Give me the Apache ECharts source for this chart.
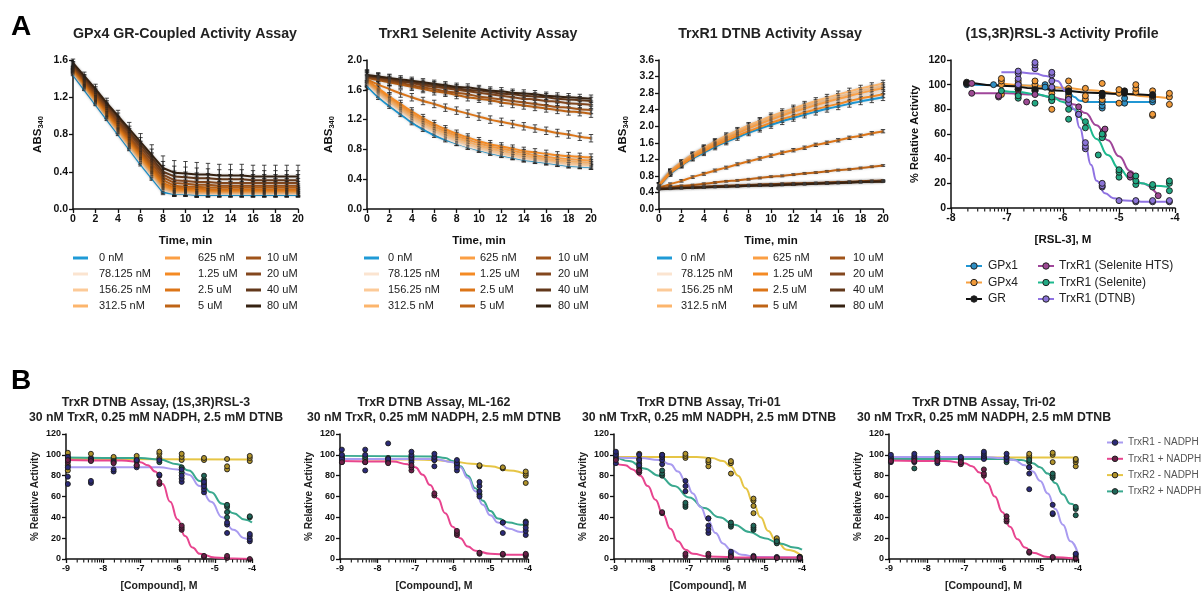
<!DOCTYPE html>
<html><head><meta charset="utf-8">
<script src="https://cdn.jsdelivr.net/npm/echarts@6/dist/echarts.min.js"></script>
<style>html,body{margin:0;padding:0;background:#fff}#c{width:1203px;height:594px}</style>
</head><body><div id="c"></div>
<script>
const FONT = "Arial, 'Liberation Sans', Helvetica, sans-serif";

// ================= DATA: Panel A (kinetics) =================
const timeMin = [0,1,2,3,4,5,6,7,8,9,10,11,12,13,14,15,16,17,18,19,20];
const concLabels = ['0 nM','78.125 nM','156.25 nM','312.5 nM','625 nM','1.25 uM','2.5 uM','5 uM','10 uM','20 uM','40 uM','80 uM'];
const concColors = ['#1f9ad6','#fbe4d0','#fcca98','#fcb56c','#fb9f44','#f48a24','#dc7518','#bf6416','#a0541a','#83471e','#62381b','#362212'];

const gpx4Abs = [
 [1.44,1.28,1.12,0.96,0.80,0.64,0.48,0.33,0.18,0.16,0.16,0.15,0.15,0.15,0.15,0.15,0.15,0.15,0.15,0.15,0.15],
 [1.46,1.30,1.14,0.98,0.82,0.66,0.50,0.35,0.20,0.17,0.17,0.16,0.16,0.16,0.16,0.16,0.16,0.16,0.16,0.16,0.16],
 [1.47,1.31,1.15,0.99,0.83,0.67,0.52,0.37,0.22,0.18,0.18,0.17,0.17,0.17,0.17,0.17,0.17,0.17,0.17,0.17,0.17],
 [1.48,1.32,1.16,1.00,0.85,0.69,0.54,0.39,0.23,0.19,0.19,0.18,0.18,0.18,0.18,0.18,0.18,0.18,0.18,0.18,0.18],
 [1.49,1.33,1.17,1.01,0.86,0.70,0.55,0.40,0.25,0.20,0.20,0.19,0.19,0.19,0.19,0.19,0.19,0.19,0.19,0.19,0.19],
 [1.50,1.34,1.18,1.03,0.87,0.72,0.57,0.42,0.26,0.21,0.21,0.20,0.20,0.20,0.20,0.20,0.20,0.20,0.20,0.20,0.20],
 [1.51,1.35,1.20,1.04,0.89,0.74,0.59,0.44,0.28,0.23,0.22,0.22,0.21,0.21,0.21,0.21,0.21,0.21,0.21,0.21,0.21],
 [1.52,1.37,1.21,1.06,0.91,0.76,0.61,0.46,0.31,0.25,0.24,0.24,0.23,0.23,0.23,0.23,0.23,0.23,0.23,0.23,0.23],
 [1.53,1.38,1.23,1.08,0.93,0.78,0.63,0.49,0.34,0.28,0.27,0.26,0.26,0.25,0.25,0.25,0.25,0.25,0.25,0.25,0.25],
 [1.54,1.40,1.25,1.10,0.95,0.81,0.66,0.52,0.37,0.31,0.30,0.29,0.29,0.28,0.28,0.28,0.28,0.28,0.28,0.28,0.28],
 [1.55,1.41,1.27,1.12,0.98,0.83,0.69,0.55,0.40,0.35,0.34,0.33,0.33,0.32,0.32,0.32,0.31,0.31,0.31,0.31,0.31],
 [1.57,1.43,1.29,1.14,1.00,0.86,0.72,0.58,0.44,0.39,0.38,0.37,0.37,0.36,0.36,0.36,0.35,0.35,0.35,0.35,0.35]
];
const gpx4ErrTime = [0.04,0.04,0.05,0.05,0.06,0.07,0.09,0.11,0.13,0.13,0.13,0.13,0.12,0.12,0.12,0.12,0.12,0.12,0.12,0.12,0.12];
const gpx4ErrScale = [0.2,0.25,0.3,0.35,0.4,0.45,0.5,0.55,0.65,0.75,0.85,1.0];

const seleniteAbs = [
 [1.65,1.50,1.38,1.27,1.16,1.07,0.99,0.93,0.88,0.83,0.79,0.75,0.72,0.69,0.66,0.64,0.62,0.60,0.58,0.57,0.56],
 [1.68,1.53,1.41,1.30,1.19,1.10,1.02,0.95,0.89,0.84,0.80,0.76,0.73,0.70,0.67,0.65,0.63,0.61,0.59,0.58,0.57],
 [1.70,1.56,1.44,1.33,1.22,1.13,1.05,0.98,0.92,0.87,0.82,0.78,0.75,0.72,0.69,0.67,0.65,0.63,0.61,0.60,0.59],
 [1.71,1.58,1.46,1.35,1.25,1.16,1.08,1.01,0.95,0.90,0.85,0.81,0.78,0.75,0.72,0.69,0.67,0.65,0.64,0.63,0.62],
 [1.72,1.60,1.49,1.38,1.28,1.19,1.11,1.04,0.98,0.93,0.88,0.84,0.81,0.78,0.75,0.72,0.70,0.68,0.67,0.66,0.65],
 [1.73,1.62,1.51,1.41,1.31,1.22,1.14,1.07,1.01,0.96,0.91,0.87,0.84,0.81,0.78,0.76,0.74,0.72,0.71,0.70,0.69],
 [1.74,1.67,1.61,1.55,1.50,1.45,1.41,1.36,1.32,1.28,1.24,1.20,1.17,1.14,1.11,1.08,1.05,1.02,1.00,0.97,0.95],
 [1.76,1.73,1.70,1.67,1.64,1.61,1.58,1.56,1.53,1.50,1.48,1.46,1.43,1.41,1.39,1.37,1.35,1.33,1.31,1.30,1.28],
 [1.77,1.74,1.71,1.69,1.66,1.63,1.61,1.58,1.56,1.54,1.51,1.49,1.47,1.45,1.43,1.41,1.39,1.37,1.36,1.34,1.33],
 [1.78,1.76,1.73,1.71,1.69,1.66,1.64,1.62,1.60,1.58,1.56,1.54,1.52,1.50,1.48,1.47,1.45,1.44,1.42,1.41,1.40],
 [1.79,1.77,1.75,1.72,1.70,1.68,1.66,1.64,1.62,1.60,1.59,1.57,1.55,1.54,1.52,1.51,1.50,1.48,1.47,1.46,1.45],
 [1.80,1.78,1.76,1.74,1.72,1.70,1.68,1.66,1.64,1.63,1.61,1.59,1.58,1.56,1.55,1.54,1.52,1.51,1.50,1.49,1.48]
];
const seleniteErrTime = [0.07,0.05,0.05,0.05,0.05,0.05,0.05,0.05,0.05,0.05,0.05,0.05,0.05,0.05,0.05,0.05,0.05,0.05,0.05,0.05,0.05];
const seleniteErrScale = [0.6,0.7,0.8,0.9,1,1,1,1,1,1,1,1];

const dtnbAbs = [
 [0.55,0.85,1.05,1.22,1.36,1.50,1.62,1.73,1.84,1.94,2.03,2.12,2.20,2.28,2.35,2.42,2.48,2.54,2.60,2.65,2.70],
 [0.57,0.88,1.09,1.27,1.42,1.56,1.69,1.81,1.92,2.03,2.13,2.22,2.31,2.39,2.47,2.54,2.61,2.68,2.74,2.80,2.86],
 [0.58,0.90,1.12,1.30,1.46,1.61,1.74,1.87,1.99,2.10,2.20,2.30,2.39,2.48,2.56,2.64,2.71,2.78,2.85,2.91,2.97],
 [0.58,0.91,1.13,1.32,1.48,1.63,1.77,1.90,2.02,2.13,2.24,2.34,2.43,2.52,2.61,2.69,2.77,2.84,2.91,2.97,3.03],
 [0.57,0.89,1.10,1.28,1.44,1.58,1.71,1.83,1.95,2.06,2.16,2.26,2.35,2.43,2.51,2.59,2.66,2.73,2.80,2.86,2.92],
 [0.56,0.86,1.06,1.24,1.39,1.53,1.65,1.77,1.88,1.98,2.08,2.17,2.25,2.33,2.41,2.48,2.54,2.61,2.67,2.72,2.77],
 [0.52,0.60,0.68,0.77,0.85,0.93,1.00,1.08,1.15,1.22,1.29,1.36,1.42,1.48,1.55,1.60,1.66,1.72,1.77,1.83,1.88],
 [0.50,0.53,0.56,0.58,0.61,0.64,0.67,0.69,0.72,0.75,0.78,0.80,0.83,0.86,0.88,0.91,0.94,0.96,0.99,1.02,1.05],
 [0.50,0.51,0.52,0.53,0.54,0.55,0.56,0.57,0.58,0.59,0.60,0.61,0.62,0.62,0.63,0.64,0.65,0.66,0.67,0.68,0.69],
 [0.49,0.50,0.51,0.52,0.53,0.54,0.55,0.56,0.57,0.58,0.59,0.60,0.60,0.61,0.62,0.63,0.64,0.65,0.66,0.67,0.68],
 [0.49,0.50,0.51,0.52,0.53,0.54,0.55,0.55,0.56,0.57,0.58,0.59,0.60,0.61,0.62,0.62,0.63,0.64,0.65,0.66,0.67],
 [0.48,0.49,0.50,0.51,0.52,0.53,0.54,0.55,0.56,0.57,0.57,0.58,0.59,0.60,0.61,0.62,0.63,0.64,0.65,0.66,0.66]
];
const dtnbErrTime = [0.06,0.06,0.06,0.06,0.07,0.07,0.07,0.07,0.07,0.08,0.08,0.08,0.08,0.08,0.08,0.08,0.08,0.08,0.08,0.08,0.08];
const dtnbErrScale = [1,1,1,1,1,1,0.5,0.25,0.2,0.2,0.2,0.2];

// ================= DATA: Panel A4 (RSL-3 profile) =================
const profileNames = ['GPx1','GPx4','GR','TrxR1 (Selenite HTS)','TrxR1 (Selenite)','TrxR1 (DTNB)'];
const profileLine = ['#2196d3','#f7a040','#111111','#a0469a','#1db98e','#8f72e2'];
const profileFill = ['#2f8fc4','#f09a3a','#1a1a1a','#9c4a93','#22a883','#8a73d6'];
const gpx1Curve = [[-7.72,100],[-7,99.6],[-6.5,99.2],[-6.2,98.6],[-6.0,97],[-5.9,94],[-5.8,90],[-5.7,87],[-5.55,86],[-5,86],[-4.4,86]];
const gpx4Curve = [[-7.1,101],[-6.5,99],[-6,97.5],[-5.5,95.5],[-5,93],[-4.5,90.5],[-4.1,89]];
const grCurve = [[-7.72,102],[-7,99],[-6.5,97],[-6,95],[-5.5,93.5],[-5,92.5],[-4.4,91.5]];
const htsCurve = [[-7.63,93],[-7,93],[-6.5,92],[-6.2,90],[-6,88],[-5.8,84],[-5.6,77],[-5.4,67],[-5.2,55],[-5.0,42],[-4.8,30],[-4.6,20],[-4.3,10]];
const selCurve = [[-7.1,95],[-6.8,94],[-6.5,92.5],[-6.2,90],[-6,86],[-5.8,80],[-5.6,70],[-5.4,56],[-5.2,43],[-5.0,32],[-4.8,24],[-4.6,20],[-4.4,18],[-4.1,17]];
const dtnbCurve = [[-7.1,110],[-6.8,110],[-6.5,109],[-6.3,107],[-6.1,103],[-5.95,95],[-5.8,80],[-5.7,65],[-5.6,50],[-5.5,35],[-5.4,22],[-5.25,12],[-5.1,8],[-4.9,6],[-4.5,5],[-4.1,5]];
const gpx1Pts = [[-7.72,100],[-7.72,101],[-7.24,100],[-6.8,96],[-6.5,97],[-6.32,100],[-6.32,98],[-6.2,96],[-5.9,92],[-5.9,89],[-5.3,81],[-5.3,83],[-5.3,86],[-4.9,85],[-4.9,89],[-4.4,86],[-4.4,88]];
const gpx4Pts = [[-7.1,92],[-7.1,100],[-7.1,103],[-7.1,105],[-6.8,96],[-6.8,101],[-6.8,103],[-6.5,95],[-6.5,100],[-6.5,103],[-6.2,80],[-6.2,88],[-6.2,93],[-6.2,97],[-5.9,90],[-5.9,97],[-5.9,103],[-5.6,88],[-5.6,91],[-5.6,97],[-5.3,88],[-5.3,93],[-5.3,101],[-5.0,85],[-5.0,93],[-5.0,96],[-4.7,94],[-4.7,97],[-4.7,100],[-4.4,75],[-4.4,76],[-4.4,90],[-4.4,95],[-4.1,84],[-4.1,90],[-4.1,93]];
const grPts = [[-7.72,101],[-7.72,102],[-6.8,97],[-6.8,99],[-6.5,95],[-6.5,96],[-6.2,97],[-5.9,94],[-5.9,95],[-5.3,91],[-5.3,93],[-4.9,93],[-4.9,95],[-4.4,91],[-4.4,92]];
const htsPts = [[-7.63,93],[-7.63,101],[-7.15,90],[-7.15,91],[-6.8,92],[-6.65,86],[-6.5,92],[-6.2,88],[-5.72,76],[-5.72,82],[-5.28,59],[-5.28,62],[-5.25,64],[-4.8,25],[-4.8,27],[-4.3,10]];
const selPts = [[-7.1,95],[-6.8,89],[-6.8,91],[-6.5,85],[-6.2,87],[-6.2,90],[-5.9,72],[-5.9,80],[-5.9,88],[-5.6,65],[-5.6,70],[-5.37,43],[-5.3,57],[-5.3,60],[-5.0,25],[-5.0,29],[-5.0,31],[-4.7,19],[-4.7,22],[-4.7,26],[-4.4,17],[-4.4,19],[-4.1,14],[-4.1,20],[-4.1,22]];
const dtnbPts = [[-6.8,100],[-6.8,105],[-6.8,109],[-6.8,111],[-6.5,113],[-6.5,116],[-6.5,118],[-6.2,98],[-6.2,103],[-6.2,108],[-6.2,110],[-5.9,85],[-5.9,88],[-5.72,76],[-5.6,48],[-5.6,50],[-5.6,53],[-5.3,17],[-5.3,18],[-5.3,20],[-5.0,6],[-4.7,5],[-4.7,6],[-4.4,5],[-4.4,6],[-4.1,5],[-4.1,6]];

// ================= DATA: Panel B (DTNB assays) =================
const logConcB = [-8.95,-8.33,-7.72,-7.1,-6.49,-5.89,-5.29,-4.67,-4.06];
const groupNamesB = ['TrxR1 - NADPH','TrxR1 + NADPH','TrxR2 - NADPH','TrxR2 + NADPH'];
const groupLineB = ['#a99bf0','#e8458f','#e6c545','#3aa98f'];
const groupFillB = ['#2b2a78','#6b1f48','#b0922a','#1f6658'];
const titlesB = ['TrxR DTNB Assay, (1S,3R)RSL-3','TrxR DTNB Assay, ML-162','TrxR DTNB Assay, Tri-01','TrxR DTNB Assay, Tri-02'];
const subtitleB = '30 nM TrxR, 0.25 mM NADPH, 2.5 mM DTNB';

// RSL-3
const rsl3Pts = [
 [[72,79,88,96,98],[73,75,96],[84,86,93],[88,90,95],[80,81,95],[74,77,80,86],[64,67,70,74],[25,33,35],[17,19,22,24]],
 [[93,95],[94],[92],[90],[72,74],[28,30,32],[2,3],[1,3],[0]],
 [[85,90,97,100,102],[97,101],[96,98],[95,99],[97,101,103],[95,98,101],[95,97],[86,89,96],[94,97,99]],
 [[95,97],[95],[94],[94],[93],[83,88],[72,76,80],[40,45,50,52],[40,41]]
];
const rsl3Curves = [
 [[-9,88],[-6.5,88],[-6.0,86],[-5.7,81],[-5.4,70],[-5.1,55],[-4.8,40],[-4.5,28],[-4.2,20],[-4.0,17]],
 [[-9,95],[-7.5,94.5],[-7.0,93],[-6.8,90],[-6.6,84],[-6.4,72],[-6.2,55],[-6.0,38],[-5.8,22],[-5.6,11],[-5.4,5],[-5.0,1.5],[-4.5,0.5],[-4.0,0]],
 [[-9,96],[-4,95.5]],
 [[-9,97.5],[-7,97],[-6.5,95.5],[-6,91],[-5.7,85],[-5.4,75],[-5.1,64],[-4.8,53],[-4.5,44],[-4.2,38],[-4.0,35]]
];
// ML-162
const ml162Pts = [
 [[93,96,100,105],[85,93,100,105],[93,96,111],[93,97,100,103],[89,95,98,101],[85,88,92,95],[60,65,70,74],[25,35],[23,27,30,35]],
 [[93],[93],[92],[85,88,90],[61,63],[23,25,27],[5,6],[4,5],[3,4,5]],
 [[95,97],[96],[95],[95],[95],[92],[89,90],[87,88],[73,80,82,84]],
 [[97,99],[98],[97],[98],[97],[90],[62],[35],[33,36]]
];
const ml162Curves = [
 [[-9,96],[-6.5,96],[-6.0,93],[-5.8,88],[-5.6,78],[-5.4,65],[-5.2,52],[-5.0,42],[-4.8,35],[-4.5,29],[-4.2,26],[-4.0,25]],
 [[-9,94],[-7.6,93.5],[-7.2,91],[-7.0,88],[-6.8,81],[-6.6,71],[-6.4,58],[-6.2,44],[-6.0,31],[-5.8,20],[-5.6,12],[-5.4,8],[-5.0,5],[-4.5,4],[-4.0,4]],
 [[-9,96],[-7,95.5],[-6.5,95],[-6,93.5],[-5.5,91.5],[-5,89],[-4.5,85],[-4.0,80]],
 [[-9,99],[-6.5,98.5],[-6.2,97],[-6.0,94],[-5.8,89],[-5.6,80],[-5.4,68],[-5.2,56],[-5.0,46],[-4.8,39],[-4.5,35],[-4.2,33],[-4.0,33]]
];
// Tri-01
const tri01Pts = [
 [[92,96,100,103],[85,90,95,100],[91,95,98,100],[65,70,75],[25,28,32,39],[3,5,7],[1,3],[1,2],[0,2]],
 [[95],[83,85],[44,45],[3,5],[3,5],[2],[2],[1],[1]],
 [[101],[96,101],[98,100],[97,99,101],[89,93,95],[82,92,94],[44,51,56,58],[16,18,20],[1,2]],
 [[98],[88,92],[80,82,85],[50,52,54],[39],[31,33,35],[28,30,32],[15,17],[2]]
];
const tri01Curves = [
 [[-9,97.5],[-8.3,97],[-7.8,95],[-7.5,91],[-7.3,84],[-7.1,75],[-6.9,63],[-6.7,50],[-6.5,37],[-6.3,25],[-6.1,15],[-5.9,9],[-5.6,4],[-5.2,2],[-4.0,1.5]],
 [[-9,92],[-8.7,90],[-8.5,86],[-8.3,80],[-8.1,70],[-7.9,57],[-7.7,43],[-7.5,29],[-7.3,17],[-7.1,9],[-6.9,5],[-6.5,2.5],[-5.5,1.5],[-4.0,1.5]],
 [[-9,98],[-6.8,98],[-6.4,97],[-6.1,94],[-5.9,89],[-5.7,80],[-5.5,68],[-5.3,54],[-5.1,40],[-4.9,27],[-4.7,18],[-4.4,9],[-4.0,3]],
 [[-9,100],[-8.6,94],[-8.2,87],[-7.8,80],[-7.4,70],[-7.0,59],[-6.6,49],[-6.2,40],[-5.8,33],[-5.4,26],[-5.0,20],[-4.6,15],[-4.2,11],[-4.0,9]]
];
// Tri-02
const tri02Pts = [
 [[93,96,98,100],[93,96,99,101],[92,95,99],[92,95,98],[96,99,101,103],[95,98,101],[67,82,88],[43,44,52],[2,4,5]],
 [[94],[94],[94],[91,93],[80,82,86],[36,38,41],[6,7],[1,2],[0]],
 [[96],[97],[97],[97],[97],[97],[97,99,101],[93,100,102],[89,93,95,96]],
 [[95],[87],[102],[96],[97],[93],[88,93,95],[78,80,82],[42,48,50]]
];
const tri02Curves = [
 [[-9,98],[-6.5,98],[-6.0,97],[-5.7,95],[-5.4,90],[-5.2,84],[-5.0,75],[-4.8,63],[-4.6,48],[-4.4,33],[-4.2,17],[-4.0,5]],
 [[-9,94.5],[-7.5,94],[-7.0,92],[-6.8,89],[-6.6,83],[-6.4,73],[-6.2,60],[-6.0,45],[-5.8,31],[-5.6,19],[-5.4,11],[-5.2,6],[-4.8,2],[-4.0,0.3]],
 [[-9,97.5],[-4,97.5]],
 [[-9,96],[-6,96],[-5.5,95],[-5.2,92],[-5.0,88],[-4.8,82],[-4.6,73],[-4.4,62],[-4.2,53],[-4.0,48]]
];

// ================= LAYOUT =================
const grids = [
 {left:73, top:60, width:225, height:149},
 {left:367, top:60, width:224, height:149},
 {left:659, top:60, width:224, height:149},
 {left:951, top:60, width:224, height:148},
 {left:66, top:434, width:186, height:125},
 {left:340, top:434, width:188, height:125},
 {left:614, top:434, width:188, height:125},
 {left:889, top:434, width:189, height:125}
].map(g => Object.assign({outerBoundsMode:'none', containLabel:false}, g));

function axisBase(fs, tickLen){
  return {
    axisLine:{show:true, onZero:false, lineStyle:{color:'#111', width:1.5}},
    axisTick:{show:true, length:tickLen, lineStyle:{color:'#111', width:1.3}},
    axisLabel:{color:'#111', fontWeight:'bold', fontSize:fs, fontFamily:FONT, margin:5, showMinLabel:true, showMaxLabel:true},
    splitLine:{show:false},
    nameTextStyle:{color:'#111', fontWeight:'bold', fontFamily:FONT}
  };
}
const absName = '{a|ABS}{b|340}';
const absRich = {a:{fontSize:11.5, fontWeight:'bold', fontFamily:FONT, color:'#111'}, b:{fontSize:7.5, fontWeight:'bold', fontFamily:FONT, color:'#111', padding:[6,0,0,0]}};

const xAxes = [], yAxes = [];
const yMaxA = [1.6, 2.0, 3.6];
for (let i=0;i<3;i++){
  xAxes.push(Object.assign(axisBase(10.5,4), {type:'value', gridIndex:i, min:0, max:20, interval:2,
    name:'Time, min', nameLocation:'middle', nameGap:26, nameTextStyle:{color:'#111', fontWeight:'bold', fontSize:11.5, fontFamily:FONT}}));
  const ya = axisBase(10.5,4);
  ya.axisLabel.formatter = v => v.toFixed(1);
  yAxes.push(Object.assign(ya, {type:'value', gridIndex:i, min:0, max:yMaxA[i], interval:0.4,
    name:absName, nameLocation:'middle', nameRotate:90, nameGap:[28,31,29][i], nameTextStyle:{rich:absRich}}));
}
xAxes.push(Object.assign(axisBase(10.5,5), {type:'value', gridIndex:3, min:-8, max:-4, interval:1,
  name:'[RSL-3], M', nameLocation:'middle', nameGap:26, nameTextStyle:{color:'#111', fontWeight:'bold', fontSize:11.5, fontFamily:FONT}}));
yAxes.push(Object.assign(axisBase(10.5,4), {type:'value', gridIndex:3, min:0, max:120, interval:20,
  name:'% Relative Activity', nameLocation:'middle', nameRotate:90, nameGap:31, nameTextStyle:{color:'#111', fontWeight:'bold', fontSize:11, fontFamily:FONT}}));
for (let i=4;i<8;i++){
  xAxes.push(Object.assign(axisBase(9,4), {type:'value', gridIndex:i, min:-9, max:-4, interval:1,
    name:'[Compound], M', nameLocation:'middle', nameGap:22, nameTextStyle:{color:'#222', fontWeight:'bold', fontSize:10.5, fontFamily:FONT}}));
  yAxes.push(Object.assign(axisBase(9,4), {type:'value', gridIndex:i, min:0, max:120, interval:20,
    name:'% Relative Activity', nameLocation:'middle', nameRotate:90, nameGap:26, nameTextStyle:{color:'#222', fontWeight:'bold', fontSize:10, fontFamily:FONT}}));
}

// ================= SERIES BUILDERS =================
const series = [];
function renderErr(params, api){
  const x = api.value(0), lo = api.value(1), hi = api.value(2);
  const a = api.coord([x, hi]), b = api.coord([x, lo]);
  const w = 2.2, st = {stroke:'#1a1a1a', lineWidth:0.8};
  return {type:'group', children:[
    {type:'line', shape:{x1:a[0], y1:a[1], x2:b[0], y2:b[1]}, style:st},
    {type:'line', shape:{x1:a[0]-w, y1:a[1], x2:a[0]+w, y2:a[1]}, style:st},
    {type:'line', shape:{x1:b[0]-w, y1:b[1], x2:b[0]+w, y2:b[1]}, style:st}
  ]};
}
function addKinetics(gi, rows, errT, errS, smooth, symColor){
  const errData = [];
  rows.forEach((row, s) => row.forEach((v, i) => {
    const e = errT[i] * errS[s];
    errData.push([timeMin[i], v - e, v + e]);
  }));
  series.push({type:'custom', xAxisIndex:gi, yAxisIndex:gi, z:1, silent:true, data:errData,
    encode:{x:0, y:[1,2]}, renderItem:renderErr});
  rows.forEach((row, s) => {
    series.push({type:'line', name:concLabels[s], xAxisIndex:gi, yAxisIndex:gi, z:2, silent:true,
      data:row.map((v, i) => [timeMin[i], v]), smooth:smooth, showSymbol:true, symbol:'rect', symbolSize:3,
      color:concColors[s], itemStyle:{color:symColor},
      lineStyle:{width:2, color:concColors[s], shadowColor:'rgba(0,0,0,0.2)', shadowBlur:3}});
  });
}
function addMinorTicks(gi, decades){
  const data = [];
  decades.forEach(d => { for (let k=2;k<10;k++) data.push([d + Math.log10(k), 0]); });
  series.push({type:'custom', xAxisIndex:gi, yAxisIndex:gi, silent:true, clip:false, z:5, data,
    encode:{x:0, y:1},
    renderItem:(p, api) => { const c = api.coord([api.value(0), api.value(1)]);
      return {type:'line', shape:{x1:c[0], y1:c[1]+0.5, x2:c[0], y2:c[1]+3.5}, style:{stroke:'#111', lineWidth:1.1}}; }});
}
function addCurve(gi, name, pts, line, fill){
  series.push({type:'line', name, xAxisIndex:gi, yAxisIndex:gi, z:3, silent:true, data:pts,
    smooth:0.5, smoothMonotone:'x', showSymbol:false, symbol:'circle', symbolSize:6,
    itemStyle:{color:fill, borderColor:'#222', borderWidth:1}, lineStyle:{color:line, width:2}});
}
function addPoints(gi, name, pts, fill, size){
  series.push({type:'scatter', name, xAxisIndex:gi, yAxisIndex:gi, z:4, silent:true, data:pts,
    symbolSize:size, itemStyle:{color:fill, borderColor:'#1a1a1a', borderWidth:0.9, opacity:1}});
}
function expandB(ptsByConc){
  const out = [];
  ptsByConc.forEach((ys, i) => ys.forEach(y => out.push([logConcB[i], y])));
  return out;
}

// Panel A1-A3
addKinetics(0, gpx4Abs, gpx4ErrTime, gpx4ErrScale, false, 'rgba(30,30,30,0.45)');
addKinetics(1, seleniteAbs, seleniteErrTime, seleniteErrScale, 0.3, 'rgba(60,60,60,0.4)');
addKinetics(2, dtnbAbs, dtnbErrTime, dtnbErrScale, 0.3, 'rgba(60,60,60,0.4)');

// Panel A4
const profCurves = [gpx1Curve, gpx4Curve, grCurve, htsCurve, selCurve, dtnbCurve];
const profPts = [gpx1Pts, gpx4Pts, grPts, htsPts, selPts, dtnbPts];
profCurves.forEach((c, k) => addCurve(3, profileNames[k], c, profileLine[k], profileFill[k]));
profPts.forEach((p, k) => addPoints(3, profileNames[k], p, profileFill[k], 6));
addMinorTicks(3, [-8,-7,-6,-5]);

// Panel B1-B4
const ptsB = [rsl3Pts, ml162Pts, tri01Pts, tri02Pts];
const curvesB = [rsl3Curves, ml162Curves, tri01Curves, tri02Curves];
for (let p=0;p<4;p++){
  const gi = 4 + p;
  [2,3,0,1].forEach(k => addCurve(gi, groupNamesB[k], curvesB[p][k], groupLineB[k], groupFillB[k]));
  [2,3,0,1].forEach(k => addPoints(gi, groupNamesB[k], expandB(ptsB[p][k]), groupFillB[k], 5));
  addMinorTicks(gi, [-9,-8,-7,-6,-5]);
}

// ================= LEGENDS =================
const legends = [];
const legColsA = [
  [[73,99],[165,198],[246,267]],
  [[364,388],[462,480],[536,558]],
  [[657,681],[756,773],[830,853]]
];
legColsA.forEach(cols => cols.forEach((c, ci) => {
  const iw = 15; let left = c[0]; let pad = c[1] - c[0] - iw - 5;
  if (pad < 0) { left = c[1] - iw - 5; pad = 0; }
  legends.push({orient:'vertical', left, top:251.5, padding:0, itemGap:3, itemWidth:iw, itemHeight:3, icon:'rect',
    selectedMode:false,
    textStyle:{fontSize:11, lineHeight:13, color:'#222', fontFamily:FONT, padding:[0,0,0,pad]},
    data: concLabels.slice(ci*4, ci*4+4).map((n, j) => ({name:n, itemStyle:{color:concColors[ci*4+j], borderWidth:0}}))});
}));
[[965,1],[1037,0]].forEach((c, ci) => {
  legends.push({orient:'vertical', left:c[0], top:259.5, padding:0, itemGap:3.5, itemWidth:16, itemHeight:8,
    selectedMode:false,
    textStyle:{fontSize:12, lineHeight:13, color:'#222', fontFamily:FONT, padding:[0,0,0,c[1]]},
    data: profileNames.slice(ci*3, ci*3+3).map((n, j) => ({name:n,
      itemStyle:{color:profileFill[ci*3+j], borderColor:'#222', borderWidth:1},
      lineStyle:{color:profileLine[ci*3+j], width:2}}))});
});
legends.push({orient:'vertical', left:1106, top:436.5, padding:0, itemGap:4.3, itemWidth:16, itemHeight:7,
  selectedMode:false,
  textStyle:{fontSize:10, lineHeight:12, color:'#555', fontFamily:FONT},
  data: groupNamesB.map((n, k) => ({name:n, itemStyle:{color:groupFillB[k], borderColor:'#222', borderWidth:1},
    lineStyle:{color:groupLineB[k], width:2}}))});

// ================= TEXT (titles, panel letters) =================
function txt(x, y, text, size, weight, color){
  return {type:'text', x, y, silent:true,
    style:{text, fontSize:size, fontWeight:weight, fontFamily:FONT, fill:color||'#111',
      align:'center', verticalAlign:'middle', textAlign:'center', textVerticalAlign:'middle'}};
}
const graphics = [
  txt(21, 27, 'A', 28, 'bold', '#000'),
  txt(21, 381, 'B', 28, 'bold', '#000'),
  txt(185, 34, 'GPx4 GR-Coupled Activity Assay', 14.2, 'bold', '#222'),
  txt(478, 34, 'TrxR1 Selenite Activity Assay', 14.2, 'bold', '#222'),
  txt(770, 34, 'TrxR1 DTNB Activity Assay', 14.2, 'bold', '#222'),
  txt(1062, 34, '(1S,3R)RSL-3 Activity Profile', 14.2, 'bold', '#222')
];
const centersB = [156, 434, 709, 984];
centersB.forEach((cx, p) => {
  graphics.push(txt(cx, 403, titlesB[p], 12.3, 'bold', '#222'));
  graphics.push(txt(cx, 418, subtitleB, 12.3, 'bold', '#222'));
});

const chart = echarts.init(document.getElementById('c'), null, {renderer:'canvas'});
chart.setOption({
  backgroundColor:'#ffffff',
  animation:false,
  textStyle:{fontFamily:FONT},
  grid:grids, xAxis:xAxes, yAxis:yAxes,
  legend:legends,
  graphic:graphics,
  series
});
</script></body></html>
